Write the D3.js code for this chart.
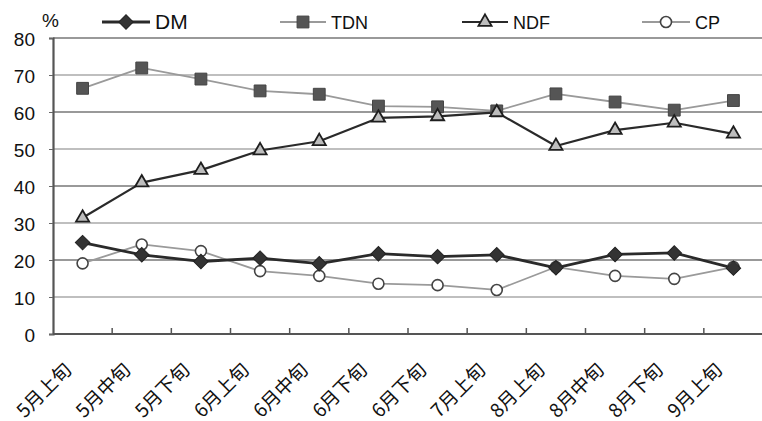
<!DOCTYPE html>
<html><head><meta charset="utf-8">
<script src="https://cdn.jsdelivr.net/npm/d3@7/dist/d3.min.js"></script>
<style>body{margin:0;background:#fff}svg{display:block}</style>
</head><body><svg id="c" width="762" height="421"></svg>
<script>
const categories = ["5月上旬","5月中旬","5月下旬","6月上旬","6月中旬","6月下旬","6月下旬","7月上旬","8月上旬","8月中旬","8月下旬","9月上旬"];
const DM  = [24.7,21.4,19.6,20.5,19.0,21.7,20.9,21.4,17.9,21.5,21.9,17.8];
const TDN = [66.4,71.9,68.9,65.7,64.8,61.6,61.4,60.3,64.9,62.7,60.5,63.1];
const NDF = [31.4,40.9,44.3,49.6,52.1,58.4,58.8,59.9,50.8,55.1,57.1,54.1];
const CP  = [19.1,24.2,22.4,17.0,15.7,13.6,13.2,11.9,18.1,15.7,14.9,18.1];
const yTicks = [0,10,20,30,40,50,60,70,80];

const svg = d3.select("#c");
const L = 53, R = 763, T = 38, B = 334;
const x = d3.scaleBand().domain(d3.range(categories.length)).range([L, R]);
const y = d3.scaleLinear().domain([0, 80]).range([B, T]);
const cx = i => x(i) + x.bandwidth() / 2;
const latin = "Liberation Sans, Arial, sans-serif";

// gridlines
svg.append("g").selectAll("line").data(yTicks.filter(d => d > 0)).join("line")
  .attr("x1", L).attr("x2", R).attr("y1", d => y(d)).attr("y2", d => y(d))
  .attr("stroke", d => (d % 20 === 0) ? "#777" : "#aaa").attr("stroke-width", 1.6);

// y axis
const ya = d3.axisLeft(y).tickValues(yTicks).tickSize(4).tickPadding(14);
const yg = svg.append("g").attr("transform", `translate(${L},0)`).call(ya);
yg.select(".domain").attr("stroke", "#555").attr("stroke-width", 2.2);
yg.selectAll(".tick line").attr("stroke", "#666");
yg.selectAll("text").attr("font-family", latin)
  .attr("font-size", 19).attr("fill", "#111").attr("dy", "0.4em");

// x axis baseline
svg.append("line").attr("x1", L).attr("x2", R).attr("y1", B).attr("y2", B)
  .attr("stroke", "#555").attr("stroke-width", 2.2);
// ticks between categories
svg.append("g").selectAll("line").data(d3.range(1, categories.length)).join("line")
  .attr("x1", d => x(d)).attr("x2", d => x(d)).attr("y1", B).attr("y2", B - 6)
  .attr("stroke", "#555").attr("stroke-width", 1.5);
// x labels
const xa = d3.axisBottom(x).tickSize(0).tickFormat(i => categories[i]);
const xg = svg.append("g").attr("transform", `translate(0,${B})`).call(xa);
xg.select(".domain").remove();
xg.selectAll("text")
  .attr("font-family", "Noto Sans CJK JP, sans-serif").attr("font-size", 19).attr("fill", "#111")
  .attr("text-anchor", "end").attr("dy", 0).attr("y", 0)
  .attr("transform", "translate(-10,37) rotate(-45)");

// series
const line = d3.line().x((d, i) => cx(i)).y(d => y(d));
function drawLine(data, color, w) {
  svg.append("path").datum(data).attr("d", line).attr("fill", "none")
    .attr("stroke", color).attr("stroke-width", w).attr("stroke-linejoin", "round");
}
drawLine(TDN, "#9a9a9a", 1.8);
drawLine(CP, "#9a9a9a", 1.8);
drawLine(NDF, "#2a2a2a", 2.2);
drawLine(DM, "#2a2a2a", 2.8);

const sym = (type, size) => d3.symbol().type(type).size(size)();
function drawMarks(data, type, size, fill, stroke, sw) {
  svg.append("g").selectAll("path").data(data).join("path")
    .attr("d", sym(type, size))
    .attr("transform", (d, i) => `translate(${cx(i)},${y(d)})`)
    .attr("fill", fill).attr("stroke", stroke).attr("stroke-width", sw);
}
drawMarks(TDN, d3.symbolSquare, 140, "#555", "#444", 1);
drawMarks(NDF, d3.symbolTriangle, 75, "#bdbdbd", "#1e1e1e", 1.8);
drawMarks(CP, d3.symbolCircle, 95, "#fff", "#444", 1.6);
svg.append("g").selectAll("path").data(DM).join("path")
  .attr("d", sym(d3.symbolSquare, 105))
  .attr("transform", (d, i) => `translate(${cx(i)},${y(d)}) rotate(45)`)
  .attr("fill", "#333").attr("stroke", "#222").attr("stroke-width", 1);

// legend
svg.append("text").attr("x", 42).attr("y", 27).text("%")
  .attr("font-family", latin).attr("font-size", 19).attr("fill", "#111");
const legend = [
  {name: "DM", x1: 102, x2: 150, color: "#2a2a2a", w: 2.8, fs: 21},
  {name: "TDN", x1: 280, x2: 326, color: "#9a9a9a", w: 1.8, fs: 18},
  {name: "NDF", x1: 462, x2: 508, color: "#2a2a2a", w: 2.2, fs: 18},
  {name: "CP", x1: 642, x2: 690, color: "#9a9a9a", w: 1.8, fs: 18}
];
const ly = 22;
legend.forEach(l => {
  svg.append("line").attr("x1", l.x1).attr("x2", l.x2).attr("y1", ly).attr("y2", ly)
    .attr("stroke", l.color).attr("stroke-width", l.w);
  svg.append("text").attr("x", l.x2 + 5).attr("y", ly + 7).text(l.name)
    .attr("font-family", latin).attr("font-size", l.fs).attr("fill", "#111");
});
const lm = x0 => (x0.x1 + x0.x2) / 2;
svg.append("path").attr("d", sym(d3.symbolSquare, 105))
  .attr("transform", `translate(${lm(legend[0])},${ly}) rotate(45)`).attr("fill", "#333").attr("stroke", "#222");
svg.append("path").attr("d", sym(d3.symbolSquare, 140))
  .attr("transform", `translate(${lm(legend[1])},${ly})`).attr("fill", "#555").attr("stroke", "#444");
svg.append("path").attr("d", sym(d3.symbolTriangle, 75))
  .attr("transform", `translate(${lm(legend[2])},${ly})`).attr("fill", "#bdbdbd").attr("stroke", "#1e1e1e").attr("stroke-width", 1.8);
svg.append("path").attr("d", sym(d3.symbolCircle, 95))
  .attr("transform", `translate(${lm(legend[3])},${ly})`).attr("fill", "#fff").attr("stroke", "#444").attr("stroke-width", 1.6);
</script></body></html>
